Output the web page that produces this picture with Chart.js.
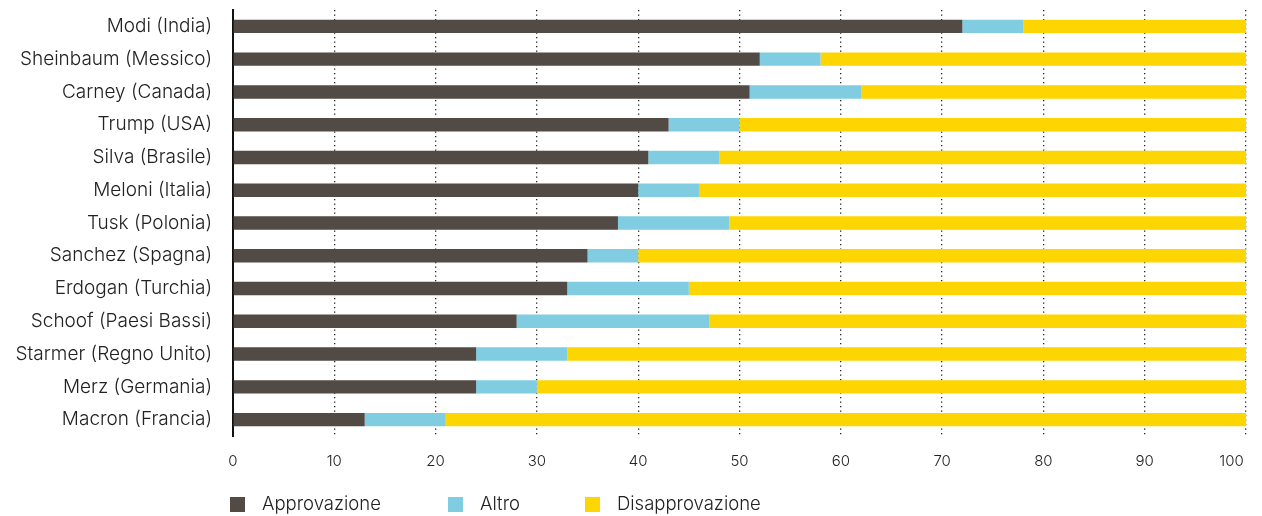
<!DOCTYPE html>
<html>
<head>
<meta charset="utf-8">
<script src="https://cdn.jsdelivr.net/npm/chart.js@4"></script>
<style>
  body { margin: 0; background: #fff; font-family: Inter, sans-serif; }
  #wrap { position: relative; width: 1262px; height: 516px; }
  #legend { position: absolute; left: 230px; top: 492px; font-size: 18.5px; font-weight: 300; color: #222; }
  #legend span.item { position: absolute; white-space: nowrap; }
  #legend span.box { display: inline-block; width: 15px; height: 15px; vertical-align: -2px; margin-right: 17px; }
</style>
</head>
<body>
<div id="wrap">
  <canvas id="myChart" width="1262" height="516"></canvas>
  <div id="legend"></div>
</div>
<script>
const leaders = ['Modi (India)', 'Sheinbaum (Messico)', 'Carney (Canada)', 'Trump (USA)', 'Silva (Brasile)',
    'Meloni (Italia)', 'Tusk (Polonia)', 'Sanchez (Spagna)', 'Erdogan (Turchia)', 'Schoof (Paesi Bassi)',
    'Starmer (Regno Unito)', 'Merz (Germania)', 'Macron (Francia)'];
const approvazione = [72, 52, 51, 43, 41, 40, 38, 35, 33, 28, 24, 24, 13];
const altro = [6, 6, 11, 7, 7, 6, 11, 5, 12, 19, 9, 6, 8];
const disapprovazione = [22, 42, 38, 50, 52, 54, 51, 60, 55, 53, 67, 70, 79];
const xTicks = [0, 10, 20, 30, 40, 50, 60, 70, 80, 90, 100];

const seriesNames = ['Approvazione', 'Altro', 'Disapprovazione'];
const colors = ['#524a45', '#80cde1', '#fdd500'];
const legendX = [0, 218, 355];

const ctx = document.getElementById('myChart').getContext('2d');
new Chart(ctx, {
    type: 'bar',
    data: {
        labels: leaders,
        datasets: [approvazione, altro, disapprovazione].map((d, i) => ({
            label: seriesNames[i],
            data: d,
            backgroundColor: colors[i],
            borderWidth: 0,
            categoryPercentage: 1,
            barPercentage: 0.41
        }))
    },
    options: {
        indexAxis: 'y',
        responsive: false,
        animation: false,
        layout: { padding: { top: 10, right: 16, bottom: 40, left: 0 } },
        plugins: {
            legend: { display: false },
            tooltip: { enabled: false }
        },
        scales: {
            x: {
                stacked: true,
                min: 0,
                max: 100,
                afterBuildTicks: (scale) => { scale.ticks = xTicks.map(v => ({ value: v })); },
                afterFit: (scale) => {
                    scale.height = 40;
                    scale.paddingLeft = 0;
                    scale.paddingRight = 0;
                },
                grid: {
                    color: (c) => c.tick && c.tick.value === 0 ? 'rgba(0,0,0,0)' : '#222',
                    lineWidth: 1.3,
                    drawTicks: false
                },
                border: { display: false, dash: [1.3, 3.2] },
                ticks: {
                    color: '#222',
                    padding: 16,
                    font: { family: 'Inter', size: 15, weight: 300 },
                    // last label sits left of its line, as in the original
                    callback: (v) => v === 100 ? '100\u2007\u2007\u2007' : String(v)
                }
            },
            y: {
                stacked: true,
                afterFit: (scale) => {
                    scale.width = 233;
                    scale.paddingTop = 0;
                    scale.paddingBottom = 0;
                },
                grid: { display: false, drawTicks: false },
                border: { display: true, color: '#111', width: 2 },
                ticks: { color: '#222', padding: 21, font: { family: 'Inter', size: 19, weight: 300 } }
            }
        }
    }
});

// legend
const legend = document.getElementById('legend');
seriesNames.forEach((name, i) => {
    const item = document.createElement('span');
    item.className = 'item';
    item.style.left = legendX[i] + 'px';
    item.innerHTML = `<span class="box" style="background:${colors[i]}"></span>${name}`;
    legend.appendChild(item);
});
</script>
</body>
</html>
